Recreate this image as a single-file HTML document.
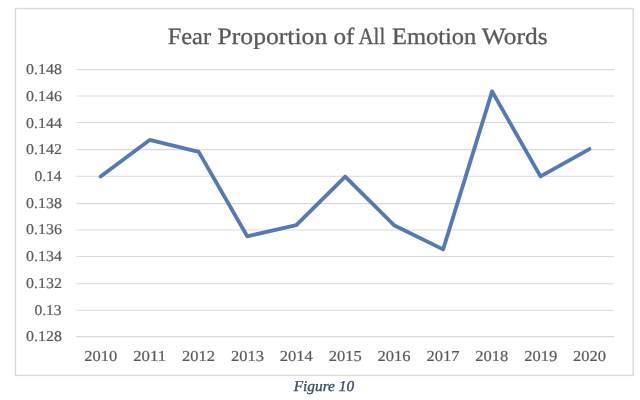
<!DOCTYPE html>
<html><head><meta charset="utf-8"><style>
html,body{margin:0;padding:0;background:#fff;width:640px;height:400px;overflow:hidden}
svg{display:block;will-change:transform}
text{font-family:"Liberation Serif",serif;fill:#595959;text-rendering:geometricPrecision}
</style></head><body>
<svg width="640" height="400" viewBox="0 0 640 400" xmlns="http://www.w3.org/2000/svg">
<rect x="15.5" y="8.5" width="617.7" height="366.9" fill="#fff" stroke="#d9d9d9" stroke-width="1.4"/>
<g stroke="#d9d9d9" stroke-width="1.05">
<line x1="76.4" x2="614" y1="69.6" y2="69.6"/>
<line x1="76.4" x2="614" y1="96.0" y2="96.0"/>
<line x1="76.4" x2="614" y1="122.5" y2="122.5"/>
<line x1="76.4" x2="614" y1="149.6" y2="149.6"/>
<line x1="76.4" x2="614" y1="176.3" y2="176.3"/>
<line x1="76.4" x2="614" y1="203.6" y2="203.6"/>
<line x1="76.4" x2="614" y1="230.0" y2="230.0"/>
<line x1="76.4" x2="614" y1="256.4" y2="256.4"/>
<line x1="76.4" x2="614" y1="283.7" y2="283.7"/>
<line x1="76.4" x2="614" y1="310.25" y2="310.25"/>
<line x1="76.4" x2="614" y1="336.6" y2="336.6"/>
</g>
<g font-size="23.3" stroke="#595959" stroke-width="0.3">
<text x="167.65" y="44" textLength="43.46" lengthAdjust="spacingAndGlyphs">Fear</text>
<text x="217.51" y="44" textLength="109.74" lengthAdjust="spacingAndGlyphs">Proportion</text>
<text x="333.45" y="44" textLength="20.98" lengthAdjust="spacingAndGlyphs">of</text>
<text x="358.46" y="44" textLength="26.80" lengthAdjust="spacingAndGlyphs">All</text>
<text x="391.95" y="44" textLength="84.45" lengthAdjust="spacingAndGlyphs">Emotion</text>
<text x="481.82" y="44" textLength="65.72" lengthAdjust="spacingAndGlyphs">Words</text>
</g>
<g font-size="14.9" text-anchor="end" stroke="#595959" stroke-width="0.2">
<text x="62.0" y="74.1" textLength="35.9" lengthAdjust="spacingAndGlyphs">0.148</text>
<text x="62.0" y="100.8" textLength="35.9" lengthAdjust="spacingAndGlyphs">0.146</text>
<text x="62.0" y="127.5" textLength="35.9" lengthAdjust="spacingAndGlyphs">0.144</text>
<text x="62.0" y="154.3" textLength="35.9" lengthAdjust="spacingAndGlyphs">0.142</text>
<text x="61.6" y="181.0" textLength="27.2" lengthAdjust="spacingAndGlyphs">0.14</text>
<text x="62.0" y="207.7" textLength="35.9" lengthAdjust="spacingAndGlyphs">0.138</text>
<text x="62.0" y="234.4" textLength="35.9" lengthAdjust="spacingAndGlyphs">0.136</text>
<text x="62.0" y="261.1" textLength="35.9" lengthAdjust="spacingAndGlyphs">0.134</text>
<text x="62.0" y="287.9" textLength="35.9" lengthAdjust="spacingAndGlyphs">0.132</text>
<text x="61.6" y="314.6" textLength="27.2" lengthAdjust="spacingAndGlyphs">0.13</text>
<text x="62.0" y="341.3" textLength="35.9" lengthAdjust="spacingAndGlyphs">0.128</text>
</g>
<g font-size="15.2" text-anchor="middle" stroke="#595959" stroke-width="0.2" lengthAdjust="spacingAndGlyphs">
<text x="100.8" y="361.1" textLength="33.0" lengthAdjust="spacingAndGlyphs">2010</text>
<text x="149.7" y="361.1" textLength="33.0" lengthAdjust="spacingAndGlyphs">2011</text>
<text x="198.6" y="361.1" textLength="33.0" lengthAdjust="spacingAndGlyphs">2012</text>
<text x="247.4" y="361.1" textLength="33.0" lengthAdjust="spacingAndGlyphs">2013</text>
<text x="296.3" y="361.1" textLength="33.0" lengthAdjust="spacingAndGlyphs">2014</text>
<text x="345.2" y="361.1" textLength="33.0" lengthAdjust="spacingAndGlyphs">2015</text>
<text x="394.0" y="361.1" textLength="33.0" lengthAdjust="spacingAndGlyphs">2016</text>
<text x="442.9" y="361.1" textLength="33.0" lengthAdjust="spacingAndGlyphs">2017</text>
<text x="491.8" y="361.1" textLength="33.0" lengthAdjust="spacingAndGlyphs">2018</text>
<text x="540.7" y="361.1" textLength="33.0" lengthAdjust="spacingAndGlyphs">2019</text>
<text x="589.5" y="361.1" textLength="33.0" lengthAdjust="spacingAndGlyphs">2020</text>
</g>
<polyline fill="none" stroke="#5479b4" stroke-width="3.8" stroke-linejoin="round" stroke-linecap="round"
 points="100.6,176.6 149.7,139.9 198.7,151.9 247.2,236.3 296.3,225.1 345.2,176.6 394.0,225.2 443.1,249.4 492.1,91.4 540.5,176.4 589.4,149.1"/>
<text x="293.66" y="391" font-size="15" font-style="italic" textLength="60.5" lengthAdjust="spacingAndGlyphs" style="fill:#3b4c69" stroke="#3b4c69" stroke-width="0.35">Figure 10</text>
</svg>
</body></html>
